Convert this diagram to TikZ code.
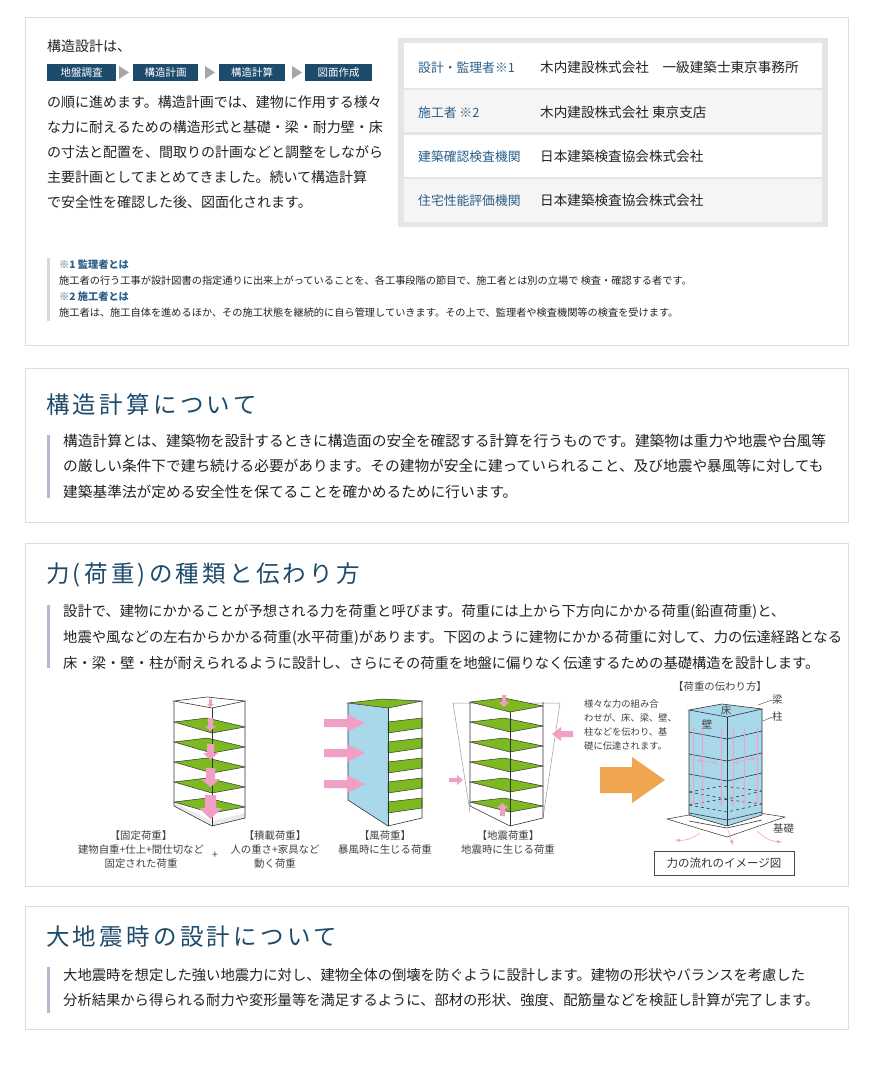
\documentclass[tikz,border=0pt]{standalone}
\usepackage{fontspec}
\setmainfont{Noto Sans CJK JP}
\newfontfamily\ttl[LetterSpace=14]{Noto Sans CJK JP}
\definecolor{teal}{HTML}{1D4B6B}
\definecolor{lbl}{HTML}{2A5F8A}
\definecolor{bord}{HTML}{DDDDDD}
\definecolor{bar}{HTML}{B3BAD6}
\definecolor{grn}{HTML}{7DBA22}
\definecolor{skyb}{HTML}{A8D8EA}
\definecolor{pnk}{HTML}{F0A0C4}
\definecolor{org}{HTML}{F0A650}
\definecolor{txt}{HTML}{222222}
\begin{document}
\begin{tikzpicture}[x=1pt,y=-1pt,
  panel/.style={draw=bord,fill=white,line width=0.8pt},
  body/.style={anchor=west,inner sep=0,font=\fontsize{14}{14}\selectfont,text=txt},
  small/.style={anchor=west,inner sep=0,font=\fontsize{10.2}{10}\selectfont,text=txt},
  smallh/.style={anchor=west,inner sep=0,font=\fontsize{10.2}{10}\selectfont\bfseries,text=lbl},
  stepbox/.style={fill=teal,text=white,inner sep=0,minimum height=17pt,font=\fontsize{10.5}{11}\selectfont},
  tri/.style={fill=gray!70,draw=none},
  lab/.style={anchor=west,inner sep=0,font=\fontsize{12.8}{13}\selectfont,text=lbl},
  val/.style={anchor=west,inner sep=0,font=\fontsize{13.6}{14}\selectfont,text=txt},
  ttlstyle/.style={anchor=west,inner sep=0,font=\ttl\fontsize{23.5}{24}\selectfont,text=teal},
  capt/.style={inner sep=0,font=\fontsize{10.4}{10.5}\selectfont,text=black!75},
  fcap/.style={inner sep=0,font=\fontsize{9.3}{9.5}\selectfont,text=black!75},
  frm/.style={draw=black!80,line width=0.6pt},
  flr/.style={fill=grn,draw=black!80,line width=0.5pt},
  parr/.style={fill=pnk,draw=none}]
\useasboundingbox (0,0) rectangle (874,1066);
\fill[white] (0,0) rectangle (874,1066);
% ---------- panel 1
\draw[panel] (25,17) rectangle (848,345);
\node[body] (p1a) at (47,46) {構造設計は、};
\node[stepbox,minimum width=69pt] (s1) at (81.5,72.5) {地盤調査};
\node[stepbox,minimum width=65pt] (s2) at (165.5,72.5) {構造計画};
\node[stepbox,minimum width=66pt] (s3) at (252,72.5) {構造計算};
\node[stepbox,minimum width=67pt] (s4) at (338.5,72.5) {図面作成};
\foreach \x in {119,205,292}{\fill[tri] (\x,66) -- (\x+10,72.5) -- (\x,79) -- cycle;}
\node[body] (p1b) at (47,102) {の順に進めます。構造計画では、建物に作用する様々};
\node[body] (p1c) at (47,127) {な力に耐えるための構造形式と基礎・梁・耐力壁・床};
\node[body] (p1d) at (47,152) {の寸法と配置を、間取りの計画などと調整をしながら};
\node[body] (p1e) at (47,177) {主要計画としてまとめてきました。続いて構造計算};
\node[body] (p1f) at (47,202) {で安全性を確認した後、図面化されます。};
% table
\fill[black!10] (398,38) rectangle (828,227);
\fill[white] (404,43) rectangle (822,88);
\fill[black!4] (404,90) rectangle (822,132);
\fill[white] (404,135) rectangle (822,177);
\fill[black!4] (404,179) rectangle (822,222);
\node[lab] (l1) at (418,68) {設計・監理者※1};
\node[val] (v1) at (540,67) {木内建設株式会社\quad 一級建築士東京事務所};
\node[lab] (l2) at (418,113) {施工者 ※2};
\node[val] (v2) at (540,112) {木内建設株式会社 東京支店};
\node[lab] (l3) at (418,157) {建築確認検査機関};
\node[val] (v3) at (540,156) {日本建築検査協会株式会社};
\node[lab] (l4) at (418,201) {住宅性能評価機関};
\node[val] (v4) at (540,200) {日本建築検査協会株式会社};
% notes
\fill[black!15] (47,258) rectangle (50,321);
\node[smallh] (n1) at (59,265) {※1 監理者とは};
\node[small] (n2) at (59,281) {施工者の行う工事が設計図書の指定通りに出来上がっていることを、各工事段階の節目で、施工者とは別の立場で 検査・確認する者です。};
\node[smallh] (n3) at (59,297) {※2 施工者とは};
\node[small] (n4) at (59,313) {施工者は、施工自体を進めるほか、その施工状態を継続的に自ら管理していきます。その上で、監理者や検査機関等の検査を受けます。};
% ---------- panel 2
\draw[panel] (25,368) rectangle (848,522);
\node[ttlstyle] (t2) at (46,405) {構造計算について};
\fill[bar] (47,435) rectangle (50,498);
\node[body,font=\fontsize{14.7}{15}\selectfont] (q1) at (63,441) {構造計算とは、建築物を設計するときに構造面の安全を確認する計算を行うものです。建築物は重力や地震や台風等};
\node[body,font=\fontsize{14.7}{15}\selectfont] (q2) at (63,466) {の厳しい条件下で建ち続ける必要があります。その建物が安全に建っていられること、及び地震や暴風等に対しても};
\node[body,font=\fontsize{14.7}{15}\selectfont] (q3) at (63,492) {建築基準法が定める安全性を保てることを確かめるために行います。};
% ---------- panel 3
\draw[panel] (25,543) rectangle (848,886);
\node[ttlstyle] (t3) at (46,575) {力(荷重)の種類と伝わり方};
\fill[bar] (47,605) rectangle (50,668);
\node[body,font=\fontsize{14.3}{15}\selectfont] (r1) at (63,612) {設計で、建物にかかることが予想される力を荷重と呼びます。荷重には上から下方向にかかる荷重(鉛直荷重)と、};
\node[body,font=\fontsize{14.3}{15}\selectfont] (r2) at (63,638) {地震や風などの左右からかかる荷重(水平荷重)があります。下図のように建物にかかる荷重に対して、力の伝達経路となる};
\node[body,font=\fontsize{14.3}{15}\selectfont] (r3) at (63,663) {床・梁・壁・柱が耐えられるように設計し、さらにその荷重を地盤に偏りなく伝達するための基礎構造を設計します。};
% building 1 (dead/live load)
\draw[frm] (174,701) -- (207,697) -- (245,701) -- (212,708) -- cycle;
\fill[black!8] (174,806) -- (212,826) -- (245,818) -- (245,813) -- (212,821) -- (174,802) -- cycle;
\foreach \y in {722,742,762,782,802}{\draw[flr] (174,\y) -- (207,\y-4) -- (245,\y+5) -- (212,\y+11) -- cycle;}
\draw[frm] (174,701) -- (174,806) -- (212,826) -- (245,818) -- (245,701);
\draw[frm] (212,708) -- (212,826);
\fill[parr] (209,699) rectangle (212,704) (207,704) -- (214,704) -- (210.5,707) -- cycle;
\fill[parr] (208,718) rectangle (213,726) (205,726) -- (216,726) -- (210.5,731) -- cycle;
\fill[parr] (207,744) rectangle (214,753) (203,753) -- (218,753) -- (210.5,760) -- cycle;
\fill[parr] (206,768) rectangle (215,779) (201,779) -- (220,779) -- (210.5,787) -- cycle;
\fill[parr] (205,795) rectangle (216,808) (199,808) -- (222,808) -- (210.5,819) -- cycle;
% building 2 (wind)
\fill[skyb] (348,703) -- (388,708) -- (388,826) -- (348,800) -- cycle;
\draw[flr] (348,703) -- (382,699) -- (422,701) -- (388,708) -- cycle;
\foreach \y in {722,742,762,782,802}{\draw[flr] (388,\y) -- (422,\y-4) -- (422,\y+6) -- (388,\y+11) -- cycle;}
\draw[frm] (348,703) -- (348,800) -- (388,826) -- (422,818) -- (422,701);
\draw[frm] (388,708) -- (388,826);
\foreach \y in {723,753,784}{\fill[parr] (324,\y-4) rectangle (347,\y+4) (347,\y-9) -- (365,\y) -- (347,\y+9) -- cycle;}
% building 3 (seismic)
\draw[black!40,line width=0.5pt] (453,703) -- (470,812) (560,703) -- (543,818) (453,703) -- (560,703);
\foreach \y in {702,722,742,762,782,802}{\draw[flr] (470,\y) -- (504,\y-4) -- (543,\y+4) -- (510,\y+10) -- cycle;}
\draw[frm] (470,702) -- (470,806) -- (510,826) -- (543,818) -- (543,702);
\draw[frm] (510,712) -- (510,826);
\fill[parr] (502,695) rectangle (506,702) (499,702) -- (509,702) -- (504,707) -- cycle;
\fill[parr] (561,731) rectangle (573,737) (561,727) -- (552,734) -- (561,741) -- cycle;
\fill[parr] (449,778) rectangle (457,782) (457,775) -- (463,780) -- (457,785) -- cycle;
\fill[parr] (500,808) rectangle (505,816) (497,808) -- (508,808) -- (502.5,803) -- cycle;
% captions
\node[capt] (c1) at (141,836) {【固定荷重】};
\node[capt] (c2) at (141,850) {建物自重+仕上+間仕切など};
\node[capt] (c3) at (141,864) {固定された荷重};
\node[capt] (cp) at (215,855) {+};
\node[capt] (c4) at (275,836) {【積載荷重】};
\node[capt] (c5) at (275,850) {人の重さ+家具など};
\node[capt] (c6) at (275,864) {動く荷重};
\node[capt] (c7) at (385,836) {【風荷重】};
\node[capt] (c8) at (385,850) {暴風時に生じる荷重};
\node[capt] (c9) at (508,836) {【地震荷重】};
\node[capt] (c10) at (508,850) {地震時に生じる荷重};
% flow image
\node[capt] (h1) at (720,687) {【荷重の伝わり方】};
\node[fcap,anchor=west] (f1) at (584,704) {様々な力の組み合};
\node[fcap,anchor=west] (f2) at (584,718) {わせが、床、梁、壁、};
\node[fcap,anchor=west] (f3) at (584,732) {柱などを伝わり、基};
\node[fcap,anchor=west] (f4) at (584,746) {礎に伝達されます。};
\fill[org] (600,767) rectangle (632,793) (632,757) -- (665,780) -- (632,803) -- cycle;
\draw[black!80,line width=0.5pt,fill=white] (667,819) -- (727,808) -- (785,817) -- (727,837) -- cycle;
\fill[skyb] (689,710) -- (722,704) -- (762,709) -- (762,815) -- (727,826) -- (689,815) -- cycle;
\draw[frm] (689,710) -- (722,704) -- (762,709) -- (727,717) -- cycle;
\draw[frm] (689,710) -- (689,815) -- (727,826) -- (762,815) -- (762,709);
\draw[frm] (727,717) -- (727,826);
\foreach \d in {22,44,64,103,111}{\draw[frm] (689,710+\d) -- (727,717+\d) -- (762,709+\d);}
\foreach \d in {82,95}{\draw[frm,dashed] (689,710+\d) -- (727,717+\d) -- (762,709+\d) (689,710+\d) -- (722,704+\d) -- (762,709+\d);}
\foreach \x in {693,702,721,733,744,757}{\draw[pnk,-latex,line width=0.6pt] (\x,728) -- (\x,806);}
\draw[pnk,latex-latex,line width=0.6pt] (696,760) -- (718,763);
\draw[pnk,latex-latex,line width=0.6pt] (733,763) -- (756,758);
\draw[pnk,-latex,line width=0.6pt] (700,833) to[bend left=20] (675,840);
\draw[pnk,-latex,line width=0.6pt] (728,830) -- (733,845);
\draw[pnk,-latex,line width=0.6pt] (757,831) to[bend right=20] (782,842);
\node[capt] (fl) at (726,711) {床};
\node[capt] (wl) at (707,724) {壁};
\node[capt,anchor=west] (hl) at (772,700) {梁};
\node[capt,anchor=west] (pl) at (772,717) {柱};
\node[capt,anchor=west] (kl) at (773,829) {基礎};
\draw[black!70,line width=0.4pt] (hl.west) -- (758,705);
\draw[black!70,line width=0.4pt] (pl.west) -- (763,721);
\node[draw=black!70,line width=0.6pt,minimum width=140pt,minimum height=24pt,inner sep=0,font=\fontsize{11.5}{12}\selectfont,text=black!80] (ib) at (724,863) {力の流れのイメージ図};
% ---------- panel 4
\draw[panel] (25,906) rectangle (848,1029);
\node[ttlstyle] (t4) at (46,937) {大地震時の設計について};
\fill[bar] (47,967) rectangle (50,1013);
\node[body,font=\fontsize{14.3}{15}\selectfont] (u1) at (63,975) {大地震時を想定した強い地震力に対し、建物全体の倒壊を防ぐように設計します。建物の形状やバランスを考慮した};
\node[body,font=\fontsize{14.3}{15}\selectfont] (u2) at (63,1000) {分析結果から得られる耐力や変形量等を満足するように、部材の形状、強度、配筋量などを検証し計算が完了します。};
\end{tikzpicture}
\end{document}
